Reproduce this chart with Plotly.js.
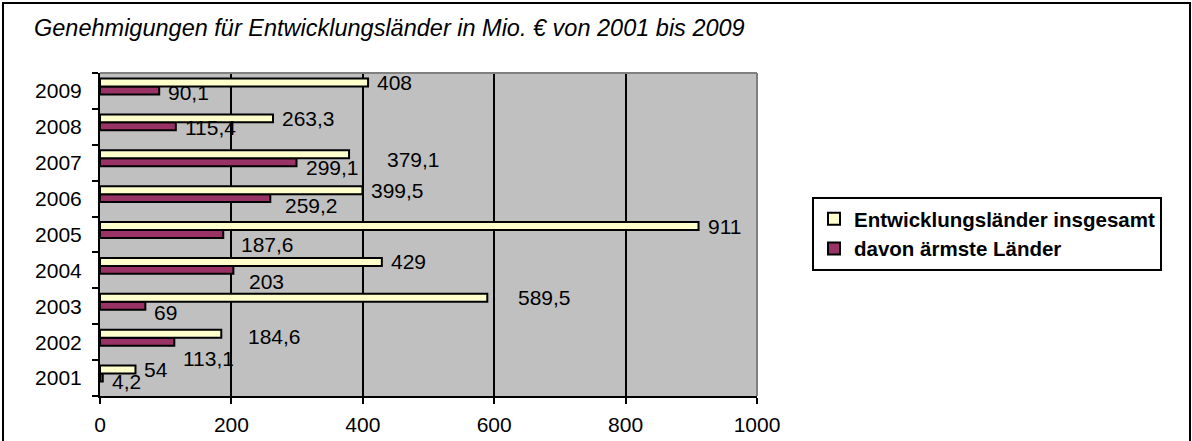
<!DOCTYPE html>
<html><head><meta charset="utf-8">
<script src="https://cdn.plot.ly/plotly-3.0.1.min.js"></script>
<style>
html,body{margin:0;padding:0;overflow:hidden;background:#fff;}
#wrap{position:absolute;left:0;top:0;width:1192px;height:441px;}
#frame{position:absolute;left:2px;top:2px;width:1185px;height:470px;border:2px solid #000;pointer-events:none;}
#chart{position:absolute;left:0;top:0;width:1192px;height:441px;}
</style></head>
<body><div id="wrap"><div id="chart"></div><div id="frame"></div></div>
<script>
const years = ['2001','2002','2003','2004','2005','2006','2007','2008','2009'];
const gesamt = [54, 184.6, 589.5, 429, 911, 399.5, 379.1, 263.3, 408];
const aermste = [4.2, 113.1, 69, 203, 187.6, 259.2, 299.1, 115.4, 90.1];
const seriesNames = ['Entwicklungsländer insgesamt', 'davon ärmste Länder'];
const xTicks = [0, 200, 400, 600, 800, 1000];

// label nudges in pixels (dx right, dy down), mimicking the original label placement
const nudgeGesamt = [[0,0],[18,3],[22,0],[0,0],[0,0],[0,0],[29,5],[0,0],[0,0]];
const nudgeAermste = [[0,4],[0,17],[0,7],[7,12],[9,10],[6,7],[0,5],[0,1],[0,2]];

const FONT = 'Liberation Sans, Arial, sans-serif';
const fmt = v => String(v).replace('.', ',');

const barW = 0.222;
const traces = [
  {type:'bar', orientation:'h', name:seriesNames[1], y:years, x:aermste,
   width:barW, offset:-0.097,
   marker:{color:'#993366', line:{color:'#000', width:2}}, legendrank:2, hoverinfo:'x'},
  {type:'bar', orientation:'h', name:seriesNames[0], y:years, x:gesamt,
   width:barW, offset:0.125,
   marker:{color:'#ffffcc', line:{color:'#000', width:2}}, legendrank:1, hoverinfo:'x'}
];

const LBL = 21;
const annotations = [];
years.forEach((yr, i) => {
  annotations.push({x:gesamt[i], y:i + 0.125 + barW/2, xref:'x', yref:'y', text:fmt(gesamt[i]),
    showarrow:false, xanchor:'left', yanchor:'middle',
    xshift:7 + nudgeGesamt[i][0], yshift:-nudgeGesamt[i][1], font:{family:FONT, size:LBL, color:'#000'}});
  annotations.push({x:aermste[i], y:i - 0.097 + barW/2, xref:'x', yref:'y', text:fmt(aermste[i]),
    showarrow:false, xanchor:'left', yanchor:'middle',
    xshift:7 + nudgeAermste[i][0], yshift:-nudgeAermste[i][1], font:{family:FONT, size:LBL, color:'#000'}});
});

const layout = {
  width:1192, height:441,
  margin:{l:100, r:435, t:73, b:45},
  paper_bgcolor:'#ffffff', plot_bgcolor:'#c0c0c0',
  font:{family:FONT, size:20, color:'#000'},
  title:{text:'<i>Genehmigungen für Entwicklungsländer in Mio. € von 2001 bis 2009</i>',
    x:34/1192, xanchor:'left', xref:'container', y:1-28/441, yanchor:'middle', yref:'container',
    font:{family:FONT, size:23.5, color:'#000'}},
  barmode:'overlay',
  xaxis:{range:[0,1000], tickvals:xTicks, ticktext:xTicks.map(String), showgrid:true, gridcolor:'#000', gridwidth:2,
    zeroline:false, showline:true, linecolor:'#000', linewidth:2, ticks:'outside', ticklen:6, tickwidth:2,
    tickcolor:'#000', ticklabelstandoff:3, tickfont:{family:FONT, size:21, color:'#000'}, fixedrange:true},
  yaxis:{type:'category', categoryorder:'array', categoryarray:years, range:[-0.5, 8.5],
    showgrid:false, zeroline:false, showline:true, linecolor:'#000', linewidth:2,
    ticks:'outside', tickson:'boundaries', ticklen:6, tickwidth:2, tickcolor:'#000',
    ticklabelstandoff:12, tickfont:{family:FONT, size:21, color:'#000'}, fixedrange:true},
  showlegend:true,
  legend:{x:(812-100)/657, y:(396-197)/323, xanchor:'left', yanchor:'top', xref:'paper', yref:'paper',
    bordercolor:'#000', borderwidth:2, bgcolor:'#fff',
    font:{family:FONT, size:20.5, color:'#000', weight:'bold'}, traceorder:'normal',
    itemwidth:30, tracegroupgap:2},
  shapes:[
    {type:'line', xref:'paper', yref:'paper', x0:0, x1:1, y0:1, y1:1, line:{color:'#808080', width:2}, layer:'above'},
    {type:'line', xref:'paper', yref:'paper', x0:1, x1:1, y0:0, y1:1, line:{color:'#808080', width:2}, layer:'above'}
  ],
  annotations:annotations
};
Plotly.newPlot('chart', traces, layout, {displayModeBar:false, staticPlot:true});
</script></body></html>
